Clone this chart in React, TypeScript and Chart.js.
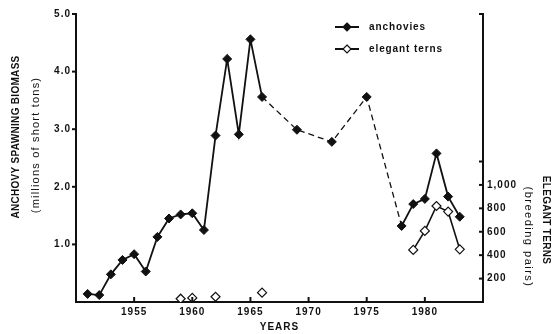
import React, { useEffect, useRef } from "react";
import { Chart, registerables } from "chart.js";

Chart.register(...registerables);

const anchovyYears = [1951, 1952, 1953, 1954, 1955, 1956, 1957, 1958, 1959, 1960, 1961, 1962, 1963, 1964, 1965, 1966, 1969, 1972, 1975, 1978, 1979, 1980, 1981, 1982, 1983];
const anchovyBiomass = [0.14, 0.12, 0.48, 0.73, 0.83, 0.53, 1.13, 1.45, 1.52, 1.54, 1.25, 2.89, 4.22, 2.91, 4.56, 3.56, 2.99, 2.78, 3.56, 1.32, 1.70, 1.79, 2.58, 1.83, 1.48];
const ternYears = [1959, 1960, 1962, 1966, 1979, 1980, 1981, 1982, 1983];
const ternPairs = [28, 35, 45, 80, 445, 607, 820, 772, 450];
const xTicks = [1955, 1960, 1965, 1970, 1975, 1980];
const leftTicks = [1, 2, 3, 4, 5];
const rightTicks = [200, 400, 600, 800, 1000];
const rightExtraTicks = [1200];

const BLACK = "#111";
const FONT = "'Liberation Sans', Arial, sans-serif";

function diamond(ctx: CanvasRenderingContext2D, x: number, y: number, r: number, fill: string) {
  ctx.beginPath();
  ctx.moveTo(x, y - r);
  ctx.lineTo(x + r, y);
  ctx.lineTo(x, y + r);
  ctx.lineTo(x - r, y);
  ctx.closePath();
  ctx.fillStyle = fill;
  ctx.fill();
  ctx.lineWidth = 1.2;
  ctx.strokeStyle = BLACK;
  ctx.stroke();
}

function rotText(ctx: CanvasRenderingContext2D, text: string, x: number, y: number, angle: number, font: string, spacing: string) {
  ctx.save();
  ctx.translate(x, y);
  ctx.rotate(angle);
  ctx.font = font;
  (ctx as any).letterSpacing = spacing;
  ctx.fillStyle = BLACK;
  ctx.textAlign = "center";
  ctx.textBaseline = "middle";
  ctx.fillText(text, 0, 0);
  ctx.restore();
}

const decor = {
  id: "decor",
  beforeDraw(chart: any) {
    (chart.ctx as any).letterSpacing = "1px";
  },
  afterDraw(chart: any) {
    const ctx: CanvasRenderingContext2D = chart.ctx;
    const { x, y, y2 } = chart.scales;
    const area = chart.chartArea;
    ctx.save();
    ctx.strokeStyle = BLACK;
    ctx.lineWidth = 2;
    // bottom ticks (inward)
    xTicks.forEach((v) => {
      const px = x.getPixelForValue(v);
      ctx.beginPath();
      ctx.moveTo(px, area.bottom);
      ctx.lineTo(px, area.bottom - 5);
      ctx.stroke();
    });
    // left ticks (outward)
    leftTicks.forEach((v) => {
      const py = y.getPixelForValue(v);
      ctx.beginPath();
      ctx.moveTo(area.left, py);
      ctx.lineTo(area.left - 4, py);
      ctx.stroke();
    });
    // right ticks (inward)
    [...rightTicks, ...rightExtraTicks, y2.max].forEach((v) => {
      const py = y2.getPixelForValue(v);
      ctx.beginPath();
      ctx.moveTo(area.right, py);
      ctx.lineTo(area.right - 4, py);
      ctx.stroke();
    });
    ctx.restore();

    // axis titles
    rotText(ctx, "ANCHOVY SPAWNING BIOMASS", 16, 137, -Math.PI / 2, `bold 10px ${FONT}`, "0.3px");
    rotText(ctx, "(millions of short tons)", 36, 145, -Math.PI / 2, `11px ${FONT}`, "1.2px");
    rotText(ctx, "ELEGANT TERNS", 546, 220, Math.PI / 2, `bold 10px ${FONT}`, "0.3px");
    rotText(ctx, "(breeding pairs)", 528, 237, Math.PI / 2, `11px ${FONT}`, "1.5px");
    rotText(ctx, "YEARS", (area.left + area.right) / 2, 327, 0, `bold 10px ${FONT}`, "1px");

    // legend
    const items = [
      { label: "anchovies", y: 27, fill: BLACK },
      { label: "elegant terns", y: 49, fill: "#fff" },
    ];
    items.forEach((it) => {
      ctx.save();
      ctx.strokeStyle = BLACK;
      ctx.lineWidth = 2;
      ctx.beginPath();
      ctx.moveTo(335, it.y);
      ctx.lineTo(359, it.y);
      ctx.stroke();
      diamond(ctx, 347, it.y, 4, it.fill);
      ctx.font = `bold 10px ${FONT}`;
      (ctx as any).letterSpacing = "0.9px";
      ctx.fillStyle = BLACK;
      ctx.textAlign = "left";
      ctx.textBaseline = "middle";
      ctx.fillText(it.label, 369, it.y);
      ctx.restore();
    });
  },
};

export default function App() {
  const canvasRef = useRef<HTMLCanvasElement | null>(null);

  useEffect(() => {
    if (!canvasRef.current) return;
    const chart = new Chart(canvasRef.current, {
      type: "line",
      data: {
        datasets: [
          {
            label: "elegant terns",
            data: ternYears.map((yr, i) => ({ x: yr, y: ternPairs[i] })),
            yAxisID: "y2",
            borderColor: BLACK,
            borderWidth: 1.6,
            pointStyle: "rectRot",
            pointRadius: 4.5,
            pointBackgroundColor: "#fff",
            pointBorderColor: BLACK,
            pointBorderWidth: 1.2,
            tension: 0,
            segment: {
              borderColor: (ctx: any) => (ctx.p0.parsed.x < 1979 ? "rgba(0,0,0,0)" : BLACK),
            },
          },
          {
            label: "anchovies",
            data: anchovyYears.map((yr, i) => ({ x: yr, y: anchovyBiomass[i] })),
            yAxisID: "y",
            borderColor: BLACK,
            borderWidth: 1.8,
            pointStyle: "rectRot",
            pointRadius: 4.5,
            pointBackgroundColor: BLACK,
            pointBorderColor: BLACK,
            pointBorderWidth: 1,
            tension: 0,
            segment: {
              borderDash: (ctx: any) =>
                ctx.p0.parsed.x >= 1966 && ctx.p1.parsed.x <= 1978 ? [6, 4] : undefined,
              borderWidth: (ctx: any) =>
                ctx.p0.parsed.x >= 1966 && ctx.p1.parsed.x <= 1978 ? 1.3 : 1.8,
            },
          },
        ],
      },
      options: {
        animation: false,
        responsive: true,
        maintainAspectRatio: false,
        layout: { padding: { top: 14, left: 0, right: 0, bottom: 0 } },
        plugins: { legend: { display: false }, tooltip: { enabled: false } },
        scales: {
          x: {
            type: "linear",
            position: "bottom",
            min: 1950,
            max: 1985,
            afterBuildTicks: (s: any) => {
              s.ticks = xTicks.map((v) => ({ value: v }));
            },
            afterFit: (s: any) => {
              s.height = 32;
            },
            ticks: {
              callback: (v: any) => String(v),
              color: BLACK,
              font: { family: FONT, size: 10, weight: "bold" },
              padding: 4,
              maxRotation: 0,
            },
            grid: { display: false, drawTicks: false },
            border: { color: BLACK, width: 2 },
          },
          y: {
            type: "linear",
            position: "left",
            min: 0,
            max: 5,
            afterBuildTicks: (s: any) => {
              s.ticks = leftTicks.map((v) => ({ value: v }));
            },
            afterFit: (s: any) => {
              s.width = 76;
            },
            ticks: {
              callback: (v: any) => Number(v).toFixed(1),
              color: BLACK,
              font: { family: FONT, size: 10, weight: "bold" },
              padding: 5,
            },
            grid: { display: false, drawTicks: false },
            border: { color: BLACK, width: 2 },
          },
          y2: {
            type: "linear",
            position: "right",
            min: 0,
            max: 2460,
            afterBuildTicks: (s: any) => {
              s.ticks = rightTicks.map((v) => ({ value: v }));
            },
            afterFit: (s: any) => {
              s.width = 74;
            },
            ticks: {
              callback: (v: any) => Number(v).toLocaleString("en-US"),
              color: BLACK,
              font: { family: FONT, size: 10, weight: "bold" },
              padding: 4,
            },
            grid: { display: false, drawTicks: false },
            border: { color: BLACK, width: 2 },
          },
        },
      },
      plugins: [decor],
    });
    return () => chart.destroy();
  }, []);

  return (
    <div style={{ position: "fixed", left: 0, top: 0, width: 557, height: 334, background: "#fff" }}>
      <canvas ref={canvasRef} />
    </div>
  );
}
